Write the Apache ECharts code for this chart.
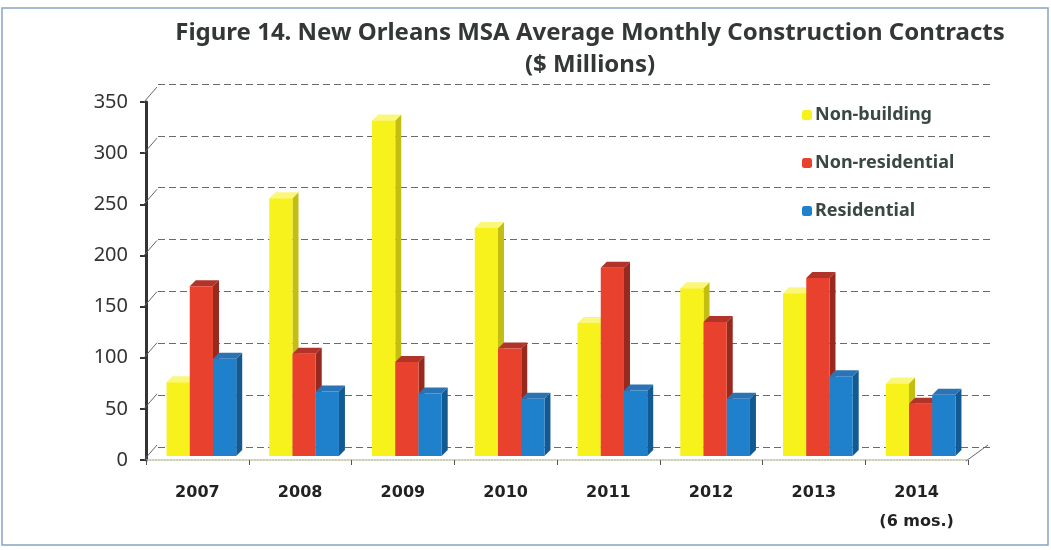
<!DOCTYPE html>
<html>
<head>
<meta charset="utf-8">
<script src="https://cdn.jsdelivr.net/npm/echarts@6/dist/echarts.min.js"></script>
<style>
  html, body { margin: 0; padding: 0; background: #ffffff; }
  #chart { width: 1051px; height: 550px; }
</style>
</head>
<body>
<div id="chart"></div>
<script>
// Average monthly construction contracts, $ millions
const years = ['2007', '2008', '2009', '2010', '2011', '2012', '2013', '2014\n(6 mos.)'];
const nonBuilding = [72, 252, 328, 223, 130, 164, 159, 71];
const nonResidential = [166, 100, 92, 105, 184, 131, 174, 51];
const residential = [95, 63, 61, 56, 64, 56, 78, 60];
const yTicks = [0, 50, 100, 150, 200, 250, 300, 350];

// face colours for the pseudo-3D columns: front, side, top
const palette = {
  'Non-building':    { front: '#f7f21b', side: '#c4bd12', top: '#fbf77c' },
  'Non-residential': { front: '#e8422e', side: '#98291f', top: '#b0342a' },
  'Residential':     { front: '#1f80cc', side: '#145a92', top: '#2b73b4' }
};

const DX0 = 4, DY0 = -4;   // column plane shift from the front axis
const DEPTH_X = 6, DEPTH_Y = -6;

function columnRenderer(slot, colors) {
  return function (params, api) {
    const cat = api.value(0), v = api.value(1);
    const base = api.coord([cat, 0]);
    const top = api.coord([cat, v]);
    const band = api.size([1, 0])[0];
    const w = band * 0.226;
    const x0 = base[0] + DX0 + (slot - 1) * w - w / 2;
    const x1 = x0 + w;
    const yb = base[1] + DY0;
    const yt = top[1] + DY0;
    return {
      type: 'group',
      children: [
        { type: 'polygon', shape: { points: [[x1, yt], [x1 + DEPTH_X, yt + DEPTH_Y], [x1 + DEPTH_X, yb + DEPTH_Y], [x1, yb]] },
          style: { fill: colors.side } },
        { type: 'polygon', shape: { points: [[x0, yt], [x1, yt], [x1 + DEPTH_X, yt + DEPTH_Y], [x0 + DEPTH_X, yt + DEPTH_Y]] },
          style: { fill: colors.top } },
        { type: 'rect', shape: { x: x0, y: yt, width: w, height: yb - yt },
          style: { fill: colors.front } }
      ]
    };
  };
}

function columnSeries(name, values, slot) {
  const c = palette[name];
  return {
    name: name,
    type: 'custom',
    xAxisIndex: 0, yAxisIndex: 0,
    itemStyle: { color: c.front },
    renderItem: columnRenderer(slot, c),
    data: values.map((v, i) => [i, v]),
    z: 5
  };
}

// short receding edges from the front value axis to the back wall
const wallEdges = {
  type: 'custom',
  xAxisIndex: 0, yAxisIndex: 0,
  silent: true,
  data: yTicks.map(v => [0, v]),
  renderItem: function (params, api) {
    const y = api.coord([0, api.value(1)])[1];
    const x = params.coordSys.x - 2;
    return { type: 'line', shape: { x1: x, y1: y, x2: x + 13, y2: y - 15 },
             style: { stroke: '#666', lineWidth: 1 } };
  },
  z: 2
};

// right-hand floor edge
const floorEdge = {
  type: 'custom',
  xAxisIndex: 0, yAxisIndex: 0,
  silent: true,
  data: [[years.length - 1, 0]],
  renderItem: function (params, api) {
    const cs = params.coordSys;
    const y = api.coord([0, 0])[1];
    const x = cs.x + cs.width;
    return { type: 'line', shape: { x1: x - 2, y1: y + 1, x2: x + 20, y2: y - 15 },
             style: { stroke: '#666', lineWidth: 1 } };
  },
  z: 2
};

const chart = echarts.init(document.getElementById('chart'), null, { renderer: 'canvas' });

chart.setOption({
  backgroundColor: '#ffffff',
  animation: false,
  title: {
    text: 'Figure 14. New Orleans MSA Average Monthly Construction Contracts\n($ Millions)',
    left: 585, top: 12, textAlign: 'center',
    textStyle: { fontFamily: 'Noto Sans', fontWeight: 'bold', fontSize: 24, lineHeight: 32, color: '#333835' }
  },
  legend: {
    orient: 'vertical',
    left: 797, top: 100,
    itemWidth: 10, itemHeight: 10, itemGap: 28,
    icon: 'roundRect',
    data: ['Non-building', 'Non-residential', 'Residential'],
    textStyle: { fontFamily: 'Noto Sans', fontWeight: 'bold', fontSize: 18, lineHeight: 20, color: '#3a4842', padding: [0, 0, 0, -2] }
  },
  graphic: [
    { type: 'rect', shape: { x: 2, y: 8, width: 1046, height: 537 },
      style: { fill: 'none', stroke: '#86a3c6', lineWidth: 1.5 }, silent: true, z: 0 }
  ],
  grid: [
    { left: 146, top: 102, width: 822, height: 358 },
    { left: 158, top: 84, width: 832, height: 363 }
  ],
  xAxis: [
    {
      type: 'category', gridIndex: 0, data: years,
      axisLine: { show: true, lineStyle: { color: '#b9c19a', width: 1.5, type: 'dotted' } },
      axisTick: { show: true, length: 5, lineStyle: { color: '#555' } },
      axisLabel: { margin: 18, fontFamily: 'DejaVu Sans', fontWeight: 'bold', fontSize: 16, lineHeight: 29, color: '#222' }
    },
    { type: 'category', gridIndex: 1, data: years, show: false }
  ],
  yAxis: [
    {
      type: 'value', gridIndex: 0, min: 0, max: 350, interval: 50,
      axisLine: { show: true, lineStyle: { color: '#333', width: 3 } },
      axisTick: { show: true, length: 6, lineStyle: { color: '#333', width: 2 } },
      axisLabel: { margin: 18, fontFamily: 'Noto Sans', fontSize: 20, color: '#333' },
      splitLine: { show: false }
    },
    {
      type: 'value', gridIndex: 1, min: 0, max: 350, interval: 50,
      axisLine: { show: false }, axisTick: { show: false }, axisLabel: { show: false },
      splitLine: { show: true, lineStyle: { color: '#6a6a6a', width: 1, type: [7, 4] } }
    }
  ],
  series: [
    wallEdges,
    floorEdge,
    columnSeries('Non-building', nonBuilding, 0),
    columnSeries('Non-residential', nonResidential, 1),
    columnSeries('Residential', residential, 2)
  ]
});
</script>
</body>
</html>
